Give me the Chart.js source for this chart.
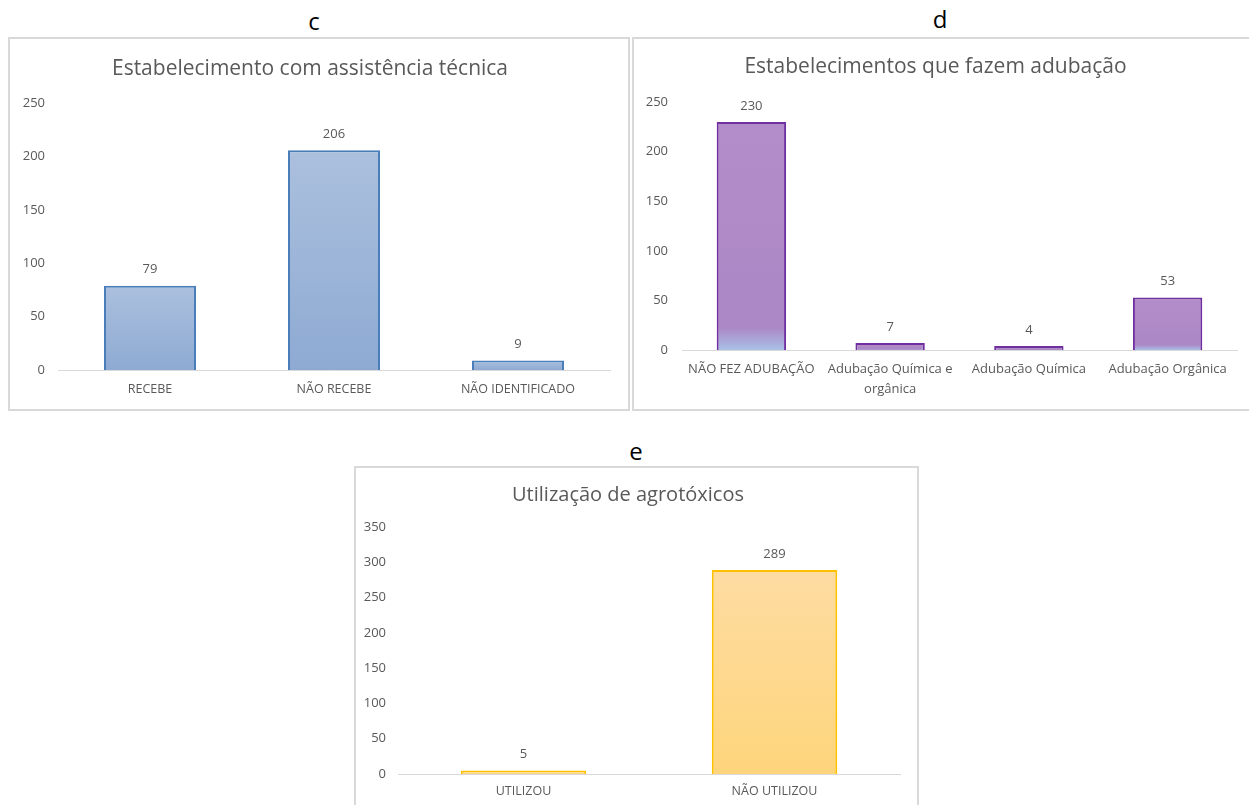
<!DOCTYPE html>
<html><head><meta charset="utf-8">
<script src="https://cdn.jsdelivr.net/npm/chart.js@4.4.1/dist/chart.umd.min.js"></script>
<style>
html,body{margin:0;padding:0;background:#fff}
body{width:1249px;height:805px;overflow:hidden;position:relative;font-family:"Open Sans",sans-serif}
.box{position:absolute;border:2px solid #d9d9d9;box-sizing:border-box}
.letter{position:absolute;font-size:24px;color:#000;transform:translate(-50%,-50%);font-family:"Open Sans",sans-serif}
.wrap{position:absolute}
</style></head><body>
<div class="letter" style="left:314px;top:20px">c</div>
<div class="letter" style="left:940px;top:18px">d</div>
<div class="letter" style="left:636px;top:450px">e</div>
<div class="box" style="left:8px;top:37px;width:622px;height:374px"></div>
<div class="box" style="left:632px;top:37px;width:640px;height:374px"></div>
<div class="box" style="left:354px;top:466px;width:565px;height:360px"></div>
<div class="wrap" style="left:10px;top:39px;width:618px;height:370px"><canvas id="cC"></canvas></div>
<div class="wrap" style="left:634px;top:39px;width:615px;height:370px"><canvas id="cD"></canvas></div>
<div class="wrap" style="left:356px;top:468px;width:561px;height:337px"><canvas id="cE"></canvas></div>
<script>
// ---- data ----
const titleC = "Estabelecimento com assistência técnica";
const catsC = ["RECEBE", "NÃO RECEBE", "NÃO IDENTIFICADO"];
const valsC = [79, 206, 9];
const yMaxC = 250, yStepC = 50;

const titleD = "Estabelecimentos que fazem adubação";
const catsD = ["NÃO FEZ ADUBAÇÃO", ["Adubação Química e", "orgânica"], "Adubação Química", "Adubação Orgânica"];
const valsD = [230, 7, 4, 53];
const yMaxD = 250, yStepD = 50;

const titleE = "Utilização de agrotóxicos";
const catsE = ["UTILIZOU", "NÃO UTILIZOU"];
const valsE = [5, 289];
const yMaxE = 350, yStepE = 50;

// ---- helpers ----
const GRAY = '#595959';
const FONT = '"Open Sans", sans-serif';

function barGradient(stops) {
  return (c) => {
    const ch = c.chart;
    if (!ch.chartArea || !ch.scales.y) return stops[0][1];
    const y = ch.scales.y;
    const top = y.getPixelForValue(c.raw), base = y.getPixelForValue(0);
    if (base - top < 1) return stops[stops.length - 1][1];
    const g = ch.ctx.createLinearGradient(0, top, 0, base);
    stops.forEach(s => g.addColorStop(s[0], s[1]));
    return g;
  };
}

const valueLabels = {
  id: 'valueLabels',
  afterDatasetsDraw(chart) {
    const ctx = chart.ctx;
    chart.data.datasets.forEach((ds, i) => {
      chart.getDatasetMeta(i).data.forEach((bar, j) => {
        ctx.save();
        ctx.fillStyle = GRAY;
        ctx.font = '13px ' + FONT;
        ctx.textAlign = 'center';
        ctx.textBaseline = 'middle';
        ctx.fillText(String(ds.data[j]), bar.x, bar.y - 16);
        ctx.restore();
      });
    });
  }
};

function makeChart(id, o) {
  return new Chart(document.getElementById(id), {
    type: 'bar',
    data: {
      labels: o.cats,
      datasets: [{
        data: o.vals,
        backgroundColor: barGradient(o.stops),
        borderColor: o.border,
        borderWidth: o.bw,
        barPercentage: 0.5,
        categoryPercentage: 1
      }]
    },
    options: {
      responsive: true,
      maintainAspectRatio: false,
      animation: false,
      layout: { padding: { left: 0, right: o.padRight, top: 0, bottom: 0 } },
      plugins: {
        legend: { display: false },
        tooltip: { enabled: false },
        title: {
          display: true, text: o.title, color: GRAY,
          font: { family: FONT, size: o.tSize, weight: 'normal', lineHeight: 1.2 },
          padding: { top: o.tTop, bottom: o.tBottom }
        }
      },
      scales: {
        x: {
          grid: { display: false, drawTicks: false },
          border: { display: true, color: '#d9d9d9', width: 1 },
          ticks: { color: GRAY, font: { family: FONT, size: o.xFont, lineHeight: o.xLH }, maxRotation: 0, autoSkip: false, padding: o.xPad },
          afterFit(s) { s.height = o.xH; }
        },
        y: {
          min: 0, max: o.yMax,
          grid: { display: false, drawTicks: false },
          border: { display: false },
          ticks: { stepSize: o.yStep, color: GRAY, font: { family: FONT, size: 13 }, padding: o.yPad },
          afterFit(s) { s.width = o.yW; }
        }
      }
    },
    plugins: [valueLabels]
  });
}

makeChart('cC', {
  cats: catsC, vals: valsC, yMax: yMaxC, yStep: yStepC, title: titleC,
  stops: [[0, '#abc0dd'], [1, '#8eaad3']], border: '#4a7ebb', bw: 2,
  padRight: 18, tSize: 21, tTop: 17, tBottom: 22, xH: 39, xPad: 12, xFont: 12.5, xLH: 1.2, yW: 48, yPad: 13
});
makeChart('cD', {
  cats: catsD, vals: valsD, yMax: yMaxD, yStep: yStepD, title: titleD,
  stops: [[0, '#b28dc9'], [0.9, '#ab87c5'], [1, '#a9c0e6']], border: '#7030a0', bw: 2,
  padRight: 12, tSize: 21, tTop: 15, tBottom: 23, xH: 59, xPad: 10, xFont: 13, xLH: 1.5, yW: 48, yPad: 14
});
makeChart('cE', {
  cats: catsE, vals: valsE, yMax: yMaxE, yStep: yStepE, title: titleE,
  stops: [[0, '#fedca2'], [1, '#fed57c']], border: '#ffc000', bw: 2,
  padRight: 17, tSize: 20, tTop: 15, tBottom: 20, xH: 31, xPad: 10, xFont: 12.5, xLH: 1.2, yW: 42, yPad: 12
});
</script>
</body></html>
